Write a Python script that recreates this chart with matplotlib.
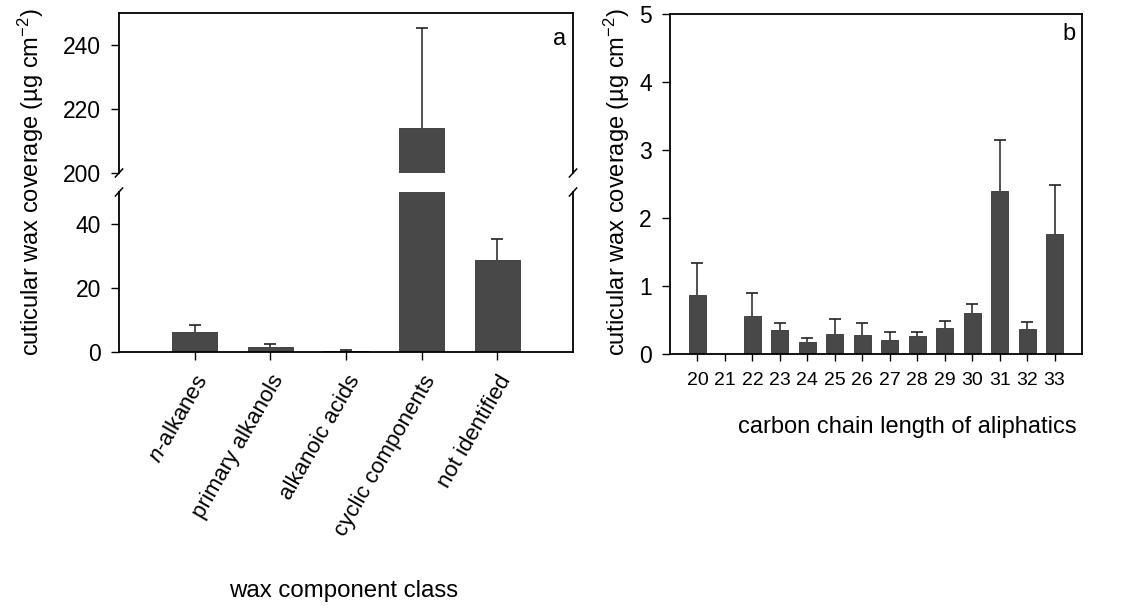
import matplotlib
matplotlib.use("Agg")
import matplotlib.pyplot as plt
import numpy as np

plt.rcParams['font.family'] = ['Liberation Sans', 'DejaVu Sans']
plt.rcParams['mathtext.fontset'] = 'custom'
plt.rcParams['mathtext.rm'] = 'Liberation Sans'
plt.rcParams['mathtext.it'] = 'Liberation Sans:italic'

# panel a data
klassen = [r"$\it{n}$-alkanes", "primary alkanols", "alkanoic acids",
           "cyclic components", "not identified"]
mittel_a = [6.2, 1.6, 0.3, 214.0, 28.6]
fehler_a = [2.1, 0.9, 0.2, 31.3, 6.6]

# panel b data
kettenlaenge = [20, 21, 22, 23, 24, 25, 26, 27, 28, 29, 30, 31, 32, 33]
mittel_b = [0.87, 0.0, 0.56, 0.35, 0.17, 0.29, 0.28, 0.20, 0.27, 0.38, 0.61, 2.39, 0.37, 1.76]
fehler_b = [0.47, 0.0, 0.34, 0.11, 0.07, 0.22, 0.18, 0.12, 0.06, 0.11, 0.12, 0.75, 0.10, 0.72]

farbe = '#484848'
W, H = 1137, 608

def box(x0, y0, x1, y1):
    # pixel box (top-left origin) -> figure fraction
    return [x0 / W, 1 - y1 / H, (x1 - x0) / W, (y1 - y0) / H]

def balken(ax, x, werte, fehler, breite):
    werte = np.asarray(werte, float)
    fehler = np.asarray(fehler, float)
    ax.bar(x, werte, width=breite, color=farbe, edgecolor='#333333', linewidth=0.6)
    # only upper error bars, cap only at the top
    ax.errorbar(x, werte, yerr=[np.zeros_like(fehler), fehler], fmt='none',
                ecolor='#222222', elinewidth=1.1, capsize=0)
    oben = np.where(fehler > 0, werte + fehler, np.nan)
    ax.plot(x, oben, linestyle='none', marker='_', markersize=9,
            markeredgewidth=1.2, color='#222222')

fig = plt.figure(figsize=(W / 100, H / 100), dpi=100)

ax_oben = fig.add_axes(box(119, 13, 573, 173))
ax_unten = fig.add_axes(box(119, 192, 573, 352))

x = np.arange(len(klassen))
for ax in (ax_oben, ax_unten):
    balken(ax, x, mittel_a, fehler_a, 0.6)
    ax.set_xlim(-1, 5)
    for s in ax.spines.values():
        s.set_linewidth(1.3)
    ax.tick_params(axis='y', direction='out', length=6, width=1, labelsize=16.5, pad=7)

ax_oben.set_ylim(200, 250)
ax_oben.set_yticks([200, 220, 240])
ax_oben.spines['bottom'].set_visible(False)
ax_oben.tick_params(axis='x', bottom=False, labelbottom=False)

ax_unten.set_ylim(0, 50)
ax_unten.set_yticks([0, 20, 40])
ax_unten.spines['top'].set_visible(False)
ax_unten.set_xticks(x)
ax_unten.set_xticklabels(klassen, rotation=60, ha='right', va='top',
                         rotation_mode='anchor', fontsize=16)
ax_unten.tick_params(axis='x', direction='out', length=6, width=1, pad=8)

# break marks
d = 0.025
for xs in (0, 1):
    ax_oben.plot([xs - 0.008, xs + 0.008], [-d, d], transform=ax_oben.transAxes,
                 color='k', lw=1.1, clip_on=False)
    ax_unten.plot([xs - 0.008, xs + 0.008], [1 - d, 1 + d], transform=ax_unten.transAxes,
                  color='k', lw=1.1, clip_on=False)

ax_oben.text(0.985, 0.84, 'a', transform=ax_oben.transAxes, fontsize=17,
             ha='right', va='center')

fig.text(31 / W, 1 - 182 / H, r'cuticular wax coverage (µg cm$^{-2}$)',
         rotation=90, ha='center', va='center', fontsize=17)
fig.text(344 / W, 1 - 591 / H, 'wax component class', ha='center', va='center',
         fontsize=17.3)

# panel b
ax_b = fig.add_axes(box(670, 14, 1082, 354))
balken(ax_b, kettenlaenge, mittel_b, fehler_b, 0.62)
ax_b.set_xlim(19, 34)
ax_b.set_ylim(0, 5)
ax_b.set_xticks(kettenlaenge)
ax_b.set_yticks([0, 1, 2, 3, 4, 5])
for s in ax_b.spines.values():
    s.set_linewidth(1.3)
ax_b.tick_params(axis='y', direction='out', length=6, width=1, labelsize=16.5, pad=7)
ax_b.tick_params(axis='x', direction='out', length=5, width=1, labelsize=14, pad=8)
ax_b.text(0.985, 0.94, 'b', transform=ax_b.transAxes, fontsize=17,
          ha='right', va='center')

fig.text(617 / W, 1 - 182 / H, r'cuticular wax coverage (µg cm$^{-2}$)',
         rotation=90, ha='center', va='center', fontsize=17)
fig.text(907 / W, 1 - 427 / H, 'carbon chain length of aliphatics', ha='center',
         va='center', fontsize=17)

fig.savefig('out.png', dpi=100)
